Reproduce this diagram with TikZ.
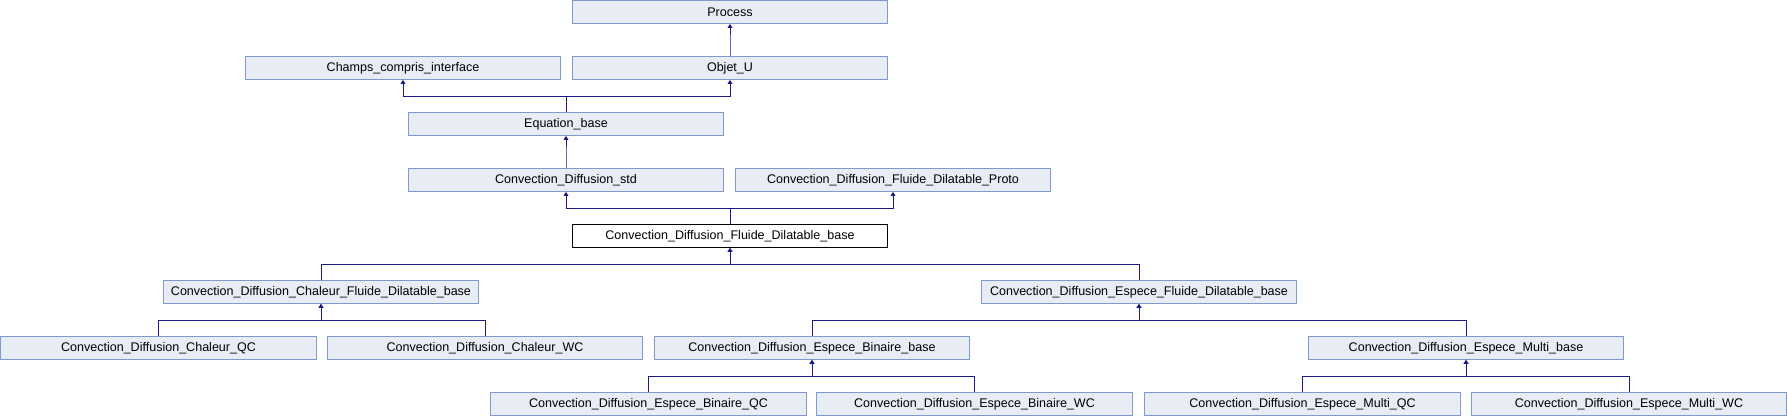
\documentclass[tikz,border=0pt]{standalone}
\usepackage{fontspec}
\setmainfont{Liberation Sans}
\usetikzlibrary{arrows.meta}
\definecolor{boxfill}{HTML}{E8ECF5}
\definecolor{boxline}{HTML}{7F9AD0}
\definecolor{edgeblue}{HTML}{1A1A8C}

\begin{document}
\begin{tikzpicture}[x=0.75pt,y=-0.75pt,
    cls/.style={draw=boxline, fill=boxfill, line width=0.75pt, minimum width=236.5pt,
      minimum height=17pt, inner sep=0pt, font=\fontsize{9.4}{11}\selectfont},
    thiscls/.style={cls, draw=black, fill=white},
    inh/.style={draw=edgeblue, line width=0.75pt, -{Triangle[length=3pt,width=3.5pt]}}]
      \useasboundingbox (0,0) rectangle (1788,416);
      % row 0 to 3
      \node[cls] (process) at (730,12) {Process};
      \node[cls] (champs) at (403,68) {Champs\_compris\_interface};
      \node[cls] (objet) at (730,68) {Objet\_U};
      \node[cls] (equation) at (566,124) {Equation\_base};
      \node[cls] (cdstd) at (566,180) {Convection\_Diffusion\_std};
      \node[cls] (cdproto) at (893,180) {Convection\_Diffusion\_Fluide\_Dilatable\_Proto};
      % the class itself
      \node[thiscls] (cdbase) at (730,236) {Convection\_Diffusion\_Fluide\_Dilatable\_base};
      % derived classes
      \node[cls] (chalbase) at (321,292) {Convection\_Diffusion\_Chaleur\_Fluide\_Dilatable\_base};
      \node[cls] (espbase) at (1139,292) {Convection\_Diffusion\_Espece\_Fluide\_Dilatable\_base};
      \node[cls] (chalqc) at (158.5,348) {Convection\_Diffusion\_Chaleur\_QC};
      \node[cls] (chalwc) at (485,348) {Convection\_Diffusion\_Chaleur\_WC};
      \node[cls] (binbase) at (812,348) {Convection\_Diffusion\_Espece\_Binaire\_base};
      \node[cls] (multbase) at (1466,348) {Convection\_Diffusion\_Espece\_Multi\_base};
      \node[cls] (binqc) at (648.5,404) {Convection\_Diffusion\_Espece\_Binaire\_QC};
      \node[cls] (binwc) at (974.5,404) {Convection\_Diffusion\_Espece\_Binaire\_WC};
      \node[cls] (multqc) at (1302.5,404) {Convection\_Diffusion\_Espece\_Multi\_QC};
      \node[cls] (multwc) at (1629,404) {Convection\_Diffusion\_Espece\_Multi\_WC};
      \foreach \c/\p in {objet/process,equation/champs,equation/objet,cdstd/equation,
          cdbase/cdstd,cdbase/cdproto,chalbase/cdbase,espbase/cdbase,
          chalqc/chalbase,chalwc/chalbase,binbase/espbase,multbase/espbase,
          binqc/binbase,binwc/binbase,multqc/multbase,multwc/multbase}
        \draw[inh] (\c.north) -- ++(0,-16) -| (\p.south);
    \end{tikzpicture}
\end{document}
